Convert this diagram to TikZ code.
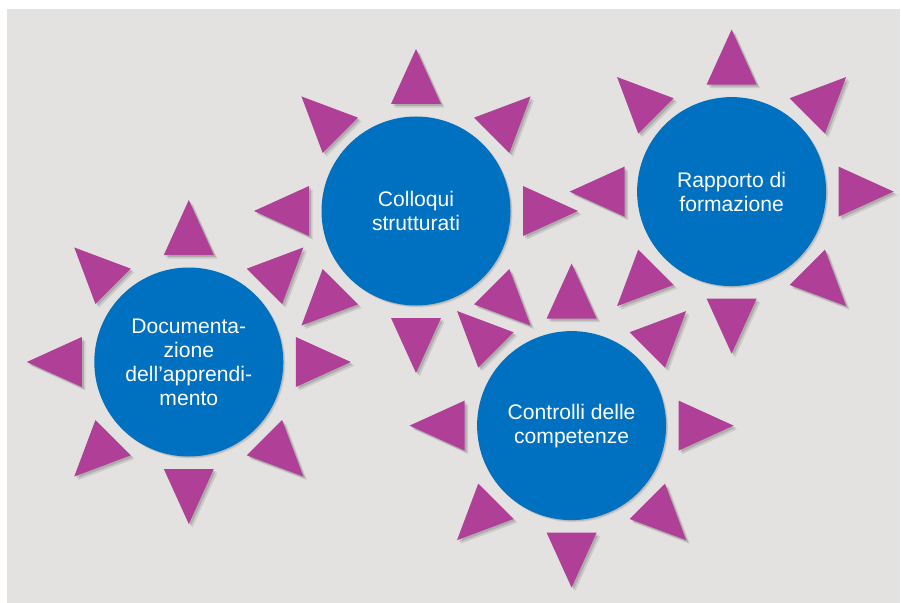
\documentclass[tikz,border=0pt]{standalone}
\usepackage{fontspec}
\setmainfont{Liberation Sans}
\usepackage{tikz}
\usetikzlibrary{shadows, calc}

\definecolor{bgGrey}{HTML}{E3E2E0}
\definecolor{discBlue}{HTML}{0070C0}
\definecolor{spikeMagenta}{HTML}{B03F98}

\tikzset{
    disc/.style={circle, fill=discBlue, minimum size=4.725cm, inner sep=0pt,
        text=white, align=center, font=\fontsize{15}{17}\selectfont,
        drop shadow={shadow xshift=0.05cm, shadow yshift=-0.05cm, opacity=0.08, fill=black},
        drop shadow={shadow xshift=0.03cm, shadow yshift=-0.03cm, opacity=0.10, fill=black}},
    spike/.style={fill=spikeMagenta,
        drop shadow={shadow xshift=0.09cm, shadow yshift=-0.09cm, opacity=0.10, fill=black},
        drop shadow={shadow xshift=0.05cm, shadow yshift=-0.05cm, opacity=0.14, fill=black}}
}

\begin{document}
\begin{tikzpicture}
    \useasboundingbox (0,0) rectangle (22.525,-15.075);
    \fill[bgGrey] (0.175,-0.225) rectangle (22.5,-15.075);

    % the four discs
    \node[disc] (doc) at (4.72,-9.05) {Documenta-\\zione\\dell’apprendi-\\mento};
    \node[disc] (coll) at (10.40,-5.275) {Colloqui\\strutturati};
    \node[disc] (rapp) at (18.29,-4.79) {Rapporto di\\formazione};
    \node[disc] (contr) at (14.29,-10.64) {Controlli delle\\competenze};

    % rays round each disc
    \foreach \c in {doc,coll,rapp,contr}
        \foreach \a in {0,45,...,315}
        {
            \begin{scope}[shift={(\c)}, rotate=\a]
                \fill[spike] (2.675,0.625) -- (4.05,0) -- (2.675,-0.625) -- cycle;
            \end{scope}
        }
\end{tikzpicture}
\end{document}
